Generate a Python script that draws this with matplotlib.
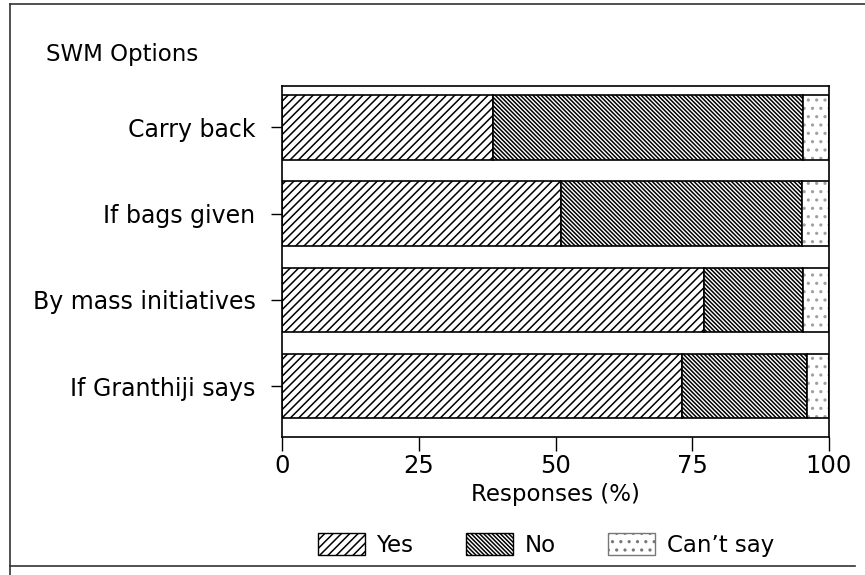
import matplotlib
matplotlib.use("Agg")
import matplotlib.pyplot as plt
from matplotlib.patches import Patch
from matplotlib.lines import Line2D

categories = ["Carry back", "If bags given", "By mass initiatives", "If Granthiji says"]
yes = [38.5, 51.0, 77.1, 73.1]
no = [56.7, 44.1, 18.2, 22.9]
cant_say = [4.8, 4.9, 4.7, 4.0]
series_names = ["Yes", "No", "Can\u2019t say"]
xticks = [0, 25, 50, 75, 100]

plt.rcParams['font.family'] = ['DejaVu Sans']
plt.rcParams['hatch.linewidth'] = 1.1

YES_H = '////'
NO_H = '\\' * 8
CS_H = '..'

W, H = 865, 575
fig = plt.figure(figsize=(W / 100, H / 100), dpi=100)
ax = fig.add_axes([282 / W, 1 - 437 / H, (829 - 282) / W, (437 - 86) / H])

ypos = list(range(len(categories)))
left2 = [a + b for a, b in zip(yes, no)]
bh = 0.75
ax.barh(ypos, yes, height=bh, color='white', edgecolor='black', hatch=YES_H, linewidth=1.2)
ax.barh(ypos, no, left=yes, height=bh, color='white', edgecolor='black', hatch=NO_H, linewidth=1.2)
ax.barh(ypos, cant_say, left=left2, height=bh, color='white', edgecolor='#a0a0a0', hatch=CS_H, linewidth=0)
ax.barh(ypos, cant_say, left=left2, height=bh, color='none', edgecolor='black', linewidth=1.2)

ax.set_xlim(0, 100)
ax.set_ylim(3.59, -0.48)
ax.set_yticks(ypos)
ax.set_yticklabels(categories, fontsize=17)
ax.set_xticks(xticks)
ax.set_xticklabels([str(t) for t in xticks], fontsize=17.5)
ax.tick_params(axis='y', length=8, width=1, pad=11)
ax.tick_params(axis='x', length=10, width=1, pad=2)
for s in ax.spines.values():
    s.set_linewidth(1.2)
ax.set_xlabel("Responses (%)", fontsize=16.5, labelpad=4)

fig.text(46 / W, 1 - 55 / H, "SWM Options", fontsize=16.5, va='center', ha='left')

handles = [Patch(facecolor='white', edgecolor='black', hatch=YES_H),
           Patch(facecolor='white', edgecolor='black', hatch=NO_H),
           Patch(facecolor='white', edgecolor='#777777', hatch=CS_H)]
fig.legend(handles, series_names, loc='center', bbox_to_anchor=(546 / W, 1 - 545 / H),
           ncol=3, frameon=False, fontsize=16.5, handlelength=2.05, handleheight=1.05,
           columnspacing=2.3, handletextpad=0.5)

# figure border lines
fig.add_artist(Line2D([10 / W, 1.0], [1 - 4 / H, 1 - 4 / H], color='#333333', lw=1.2))
fig.add_artist(Line2D([10 / W, 10 / W], [0, 1 - 4 / H], color='#333333', lw=1.2))
fig.add_artist(Line2D([10 / W, 855 / W], [1 - 566 / H, 1 - 566 / H], color='#333333', lw=1.2))

fig.savefig("out.png", dpi=100)
